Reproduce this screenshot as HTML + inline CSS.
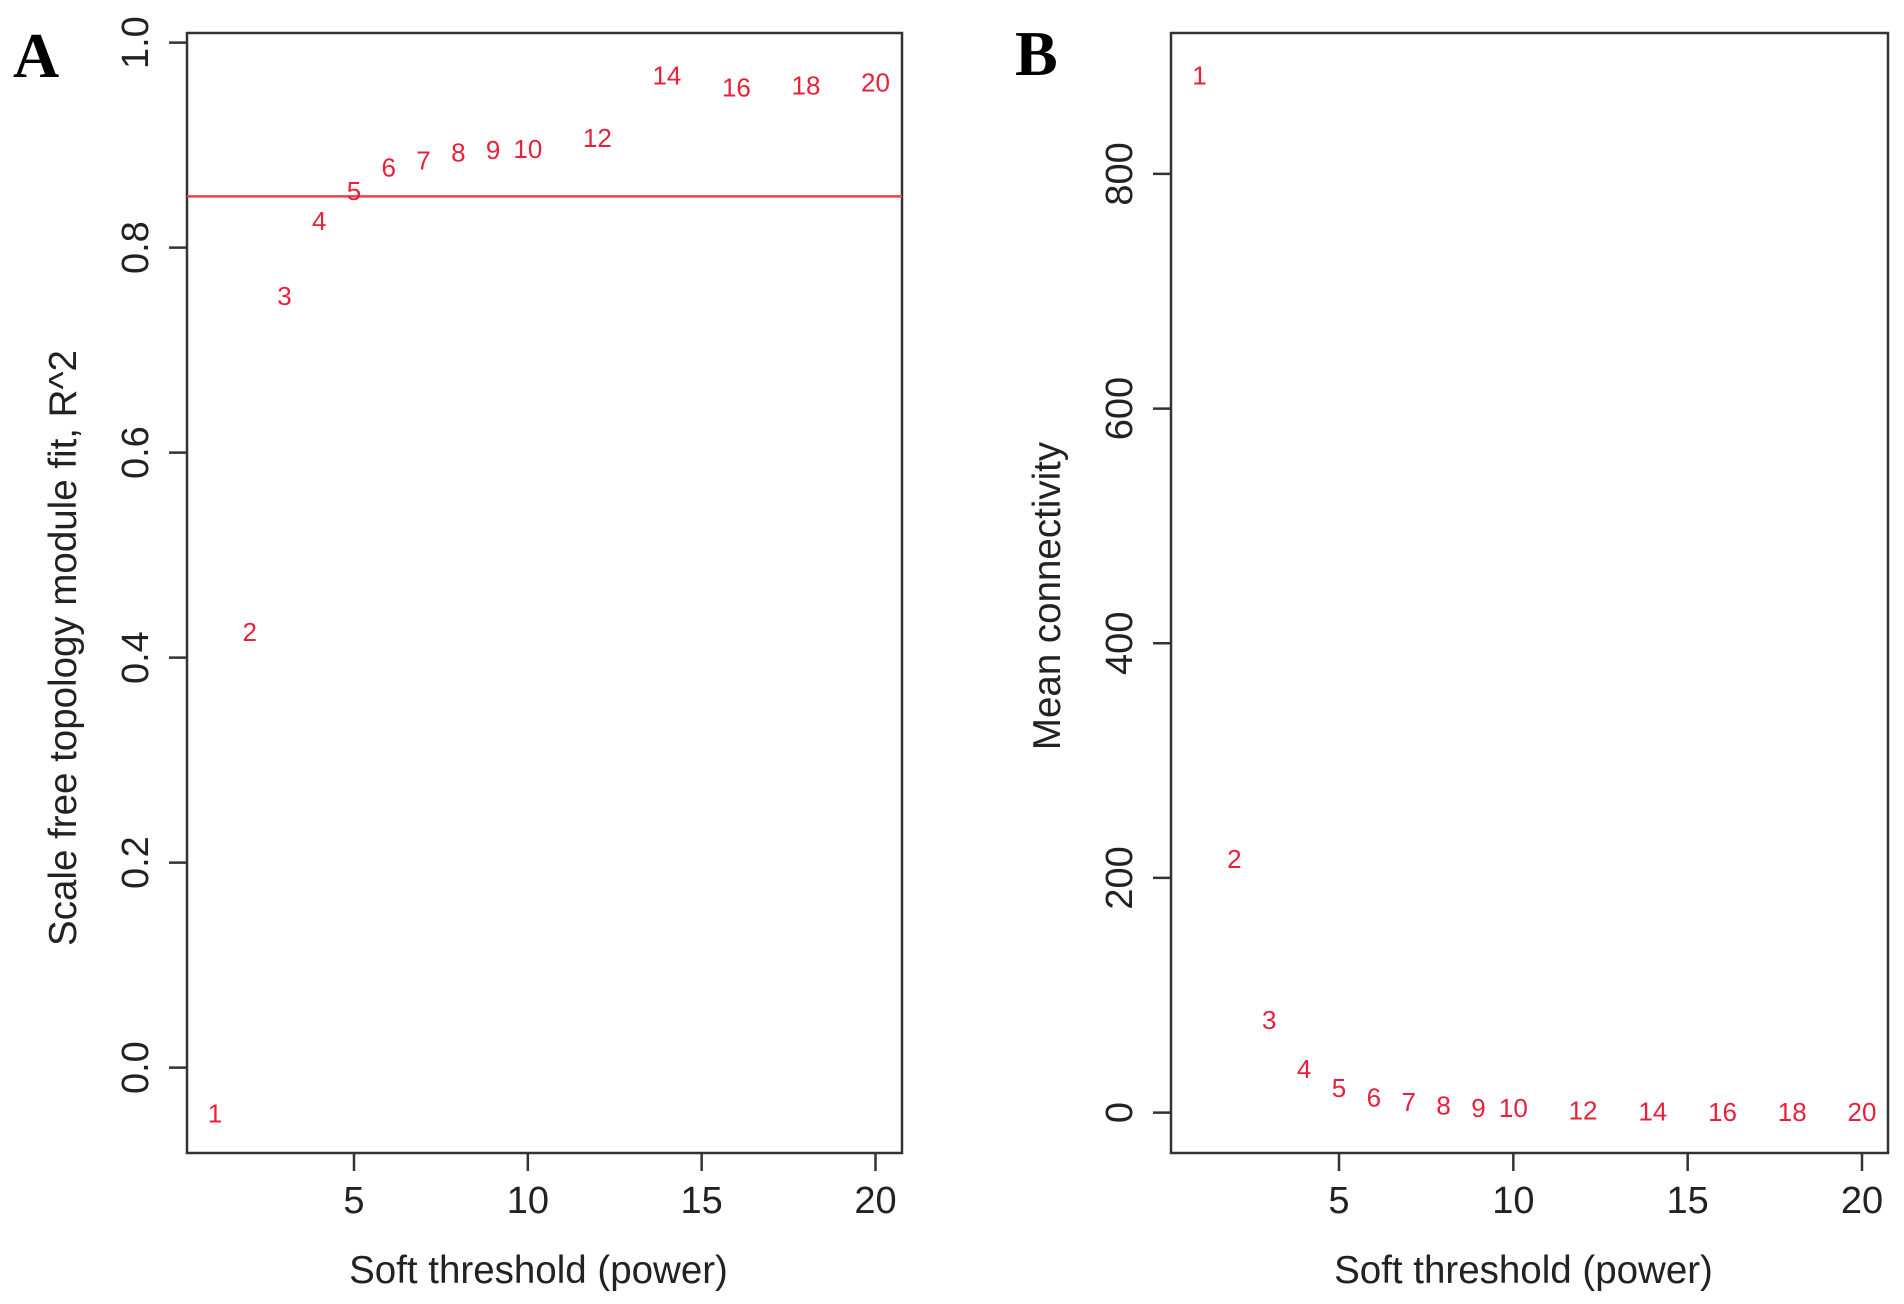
<!DOCTYPE html>
<html><head><meta charset="utf-8"><style>
html,body{margin:0;padding:0;background:#fff;}
svg{display:block;font-family:"Liberation Sans",Arial,sans-serif;}
</style></head><body>
<svg id="c" width="1904" height="1304" viewBox="0 0 1904 1304" xmlns="http://www.w3.org/2000/svg">
<text x="13" y="77" font-family="Liberation Serif,serif" font-weight="bold" font-size="64">A</text>
<text x="1015" y="75" font-family="Liberation Serif,serif" font-weight="bold" font-size="64">B</text>
<g id="pa"></g>
<g id="pb"></g>
</svg>
<script>
const powers = [1,2,3,4,5,6,7,8,9,10,12,14,16,18,20];
const r2Values = [-0.045,0.425,0.753,0.826,0.855,0.878,0.885,0.893,0.895,0.896,0.907,0.968,0.956,0.958,0.961];
const meanK = [884,216,79,37,21,13,9,6,4,4,2,1,0.5,0.5,0.5];
const xTicks = [5,10,15,20];
const yTicksA = [0.0,0.2,0.4,0.6,0.8,1.0];
const yTickLabelsA = ["0.0","0.2","0.4","0.6","0.8","1.0"];
const yTicksB = [0,200,400,600,800];
const yTickLabelsB = ["0","200","400","600","800"];
const cutoff = 0.85;

const NS='http://www.w3.org/2000/svg';
function mk(parent,tag,attrs,text){const e=document.createElementNS(NS,tag);for(const k in attrs)e.setAttribute(k,attrs[k]);if(text!==undefined)e.textContent=text;parent.appendChild(e);return e;}

function panel(g,box,xs,ys,yTicks,yLabels,yLabX,yTitle,yTitleX,yTitleY,vals,hline){
  const sx=v=>xs[0]+(v-xs[1])*(xs[2]-xs[0])/(xs[3]-xs[1]);
  const sy=v=>ys[0]+(v-ys[1])*(ys[2]-ys[0])/(ys[3]-ys[1]);
  const frame=mk(g,'rect',{x:box[0],y:box[1],width:box[2]-box[0],height:box[3]-box[1],fill:'none',stroke:'#333',"stroke-width":2.5});
  
  
  xTicks.forEach(t=>{
    const x=sx(t);
    const l=mk(g,'line',{x1:x,x2:x,y1:box[3],y2:box[3]+18,stroke:'#333',"stroke-width":2.5});
    
    
    const tx=mk(g,'text',{x:x,y:1213,"text-anchor":"middle","font-size":38,fill:'#222'},String(t));
    
    
  });
  yTicks.forEach((t,i)=>{
    const y=sy(t);
    const l=mk(g,'line',{x1:box[0]-18,x2:box[0],y1:y,y2:y,stroke:'#333',"stroke-width":2.5});
    
    
    const tx=mk(g,'text',{x:0,y:0,"text-anchor":"middle","font-size":38,fill:'#222',transform:`translate(${yLabX},${y}) rotate(-90)`},yLabels[i]);
    
    
  });
  const xt=mk(g,'text',{x:(box[0]+box[2])/2-6,y:1283,"text-anchor":"middle","font-size":38.5,fill:'#222'},'Soft threshold (power)');
  
  
  const yt=mk(g,'text',{x:0,y:0,"text-anchor":"middle","font-size":38.5,fill:'#222',transform:`translate(${yTitleX},${yTitleY}) rotate(-90)`},yTitle);
  
  
  if(hline!==null){
    const h=mk(g,'line',{x1:box[0],x2:box[2],y1:sy(hline),y2:sy(hline),stroke:'#e8414f',"stroke-width":2.5});
    
    
  }
  powers.forEach((p,i)=>{
    const t=mk(g,'text',{x:sx(p),y:sy(vals[i])+9,"text-anchor":"middle","font-size":26,fill:'#e8213a'},String(p));
    
    
  });
}
panel(document.getElementById('pa'),[187,33,902,1153],[354,5,875.5,20],[1067.6,0,42.6,1],yTicksA,yTickLabelsA,148,'Scale free topology module fit,  R^2',76,648,r2Values,cutoff);
panel(document.getElementById('pb'),[1171,33,1888,1153],[1339,5,1862,20],[1112.6,0,173.9,800],yTicksB,yTickLabelsB,1132,'Mean connectivity',1060,596,meanK,null);
</script>
</body></html>
